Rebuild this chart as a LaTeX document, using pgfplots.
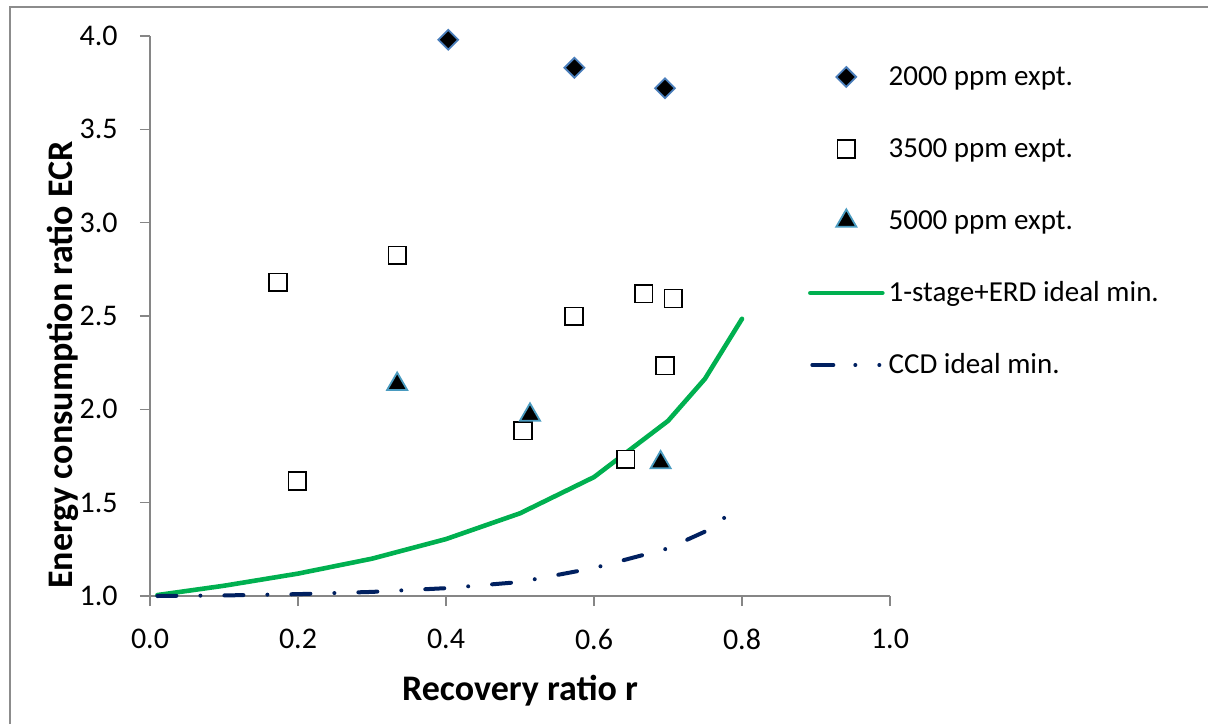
\documentclass[border=0pt]{standalone}
\usepackage{pgfplots}
\pgfplotsset{compat=1.18}
\usepackage{fontspec}
\setmainfont{Carlito}
\definecolor{axgray}{HTML}{868686}
\definecolor{framegray}{HTML}{8C8C8C}
\definecolor{mkblue}{HTML}{4A7EBB}
\definecolor{mkteal}{HTML}{4A9BC0}
\definecolor{lgreen}{HTML}{00B050}
\definecolor{lnavy}{HTML}{002060}
\pgfplotsset{
  markleg/.style={legend image code/.code={\path (0pt,0pt) (36pt,0pt); \draw[##1] plot coordinates {(18pt,0pt)};}},
  lineleg/.style={legend image code/.code={\draw[##1] (0pt,0pt) -- (36pt,0pt);}},
  dashleg/.style={legend image code/.code={\draw[##1, dash pattern=on 10.5pt off 11pt on 0pt off 12pt on 0pt off 30pt] (1pt,0pt) -- (35pt,0pt);}},
}
\begin{document}
\begin{tikzpicture}
\begin{axis}[
  scale only axis, width=370pt, height=280pt,
  xmin=0, xmax=1, ymin=1, ymax=4,
  axis x line=bottom, axis y line=left,
  axis line style={axgray, line width=0.7pt, -},
  xtick={0,0.2,0.4,0.6,0.8,1.0}, ytick={1,1.5,2,2.5,3,3.5,4},
  tick align=outside, major tick length=5pt,
  tick style={axgray, line width=0.7pt},
  /pgf/number format/.cd, fixed, fixed zerofill, precision=1, assume math mode=true, /pgfplots/.cd,
  tick label style={font=\fontsize{15}{17}\selectfont, text=black},
  xticklabel style={anchor=north, inner sep=0pt, yshift=-11.5pt},
  yticklabel style={anchor=east, inner sep=0pt, xshift=-11pt},
  xlabel={Recovery ratio r},
  ylabel={Energy consumption ratio ECR},
  label style={font=\fontsize{18}{21}\selectfont\bfseries},
  xlabel style={at={(rel axis cs:0.5,0)}, anchor=base, yshift=-52pt, inner sep=0pt},
  ylabel style={at={(rel axis cs:0,0.4125)}, anchor=base, yshift=38.5pt, inner sep=0pt},
  clip=false,
  legend cell align=left,
  legend style={at={(0.8892,0.9786)}, anchor=north west, draw=none, fill=none,
    inner sep=0pt, outer sep=0pt, row sep=7pt, column sep=2pt,
    font=\fontsize{14.5}{17}\selectfont,
    nodes={inner xsep=0pt, inner ysep=10pt, text height=9pt, text depth=0pt}},
]
\addplot[only marks, mark=square*, mark size=3.5pt,
  mark options={rotate=45, fill=black, draw=mkblue, line width=0.9pt}, markleg]
  coordinates {(0.403,3.98) (0.5735,3.83) (0.696,3.72)};
\addlegendentry{2000 ppm expt.}
\addplot[only marks, mark=square*, mark size=4.4pt,
  mark options={fill=white, draw=black, line width=0.75pt}, markleg]
  coordinates {(0.173,2.68) (0.199,1.616) (0.334,2.825) (0.504,1.885) (0.573,2.499)
               (0.643,1.732) (0.667,2.62) (0.707,2.594) (0.696,2.233)};
\addlegendentry{3500 ppm expt.}
\addplot[only marks, mark=triangle*, mark size=5.8pt,
  mark options={fill=black, draw=mkteal, line width=0.9pt}, markleg]
  coordinates {(0.334,2.135) (0.5135,1.97) (0.690,1.715)};
\addlegendentry{5000 ppm expt.}
\addplot[lgreen, line width=2.3pt, line join=round, line cap=round, mark=none, lineleg]
  coordinates {(0.01,1.005) (0.1,1.055) (0.2,1.12) (0.3,1.20) (0.4,1.305) (0.5,1.443)
               (0.6,1.637) (0.7,1.938) (0.75,2.164) (0.8,2.485)};
\addlegendentry{1-stage+ERD ideal min.}
\addplot[lnavy, line width=2pt, line join=round, line cap=round, mark=none,
  dash pattern=on 9.5pt off 12pt on 0pt off 12pt, dashleg]
  coordinates {(0.01,1.0) (0.1,1.003) (0.2,1.01) (0.3,1.022) (0.4,1.042) (0.5,1.075)
               (0.6,1.15) (0.7,1.255) (0.75,1.345) (0.78,1.43)};
\addlegendentry{CCD ideal min.}
\end{axis}
\draw[framegray, line width=1pt] (-70pt,-64pt) -- (-70pt,294.5pt) -- (529pt,294.5pt);
\pgfresetboundingbox
\path[use as bounding box] (-75pt,-64pt) rectangle (529pt,298pt);
\end{tikzpicture}
\end{document}
